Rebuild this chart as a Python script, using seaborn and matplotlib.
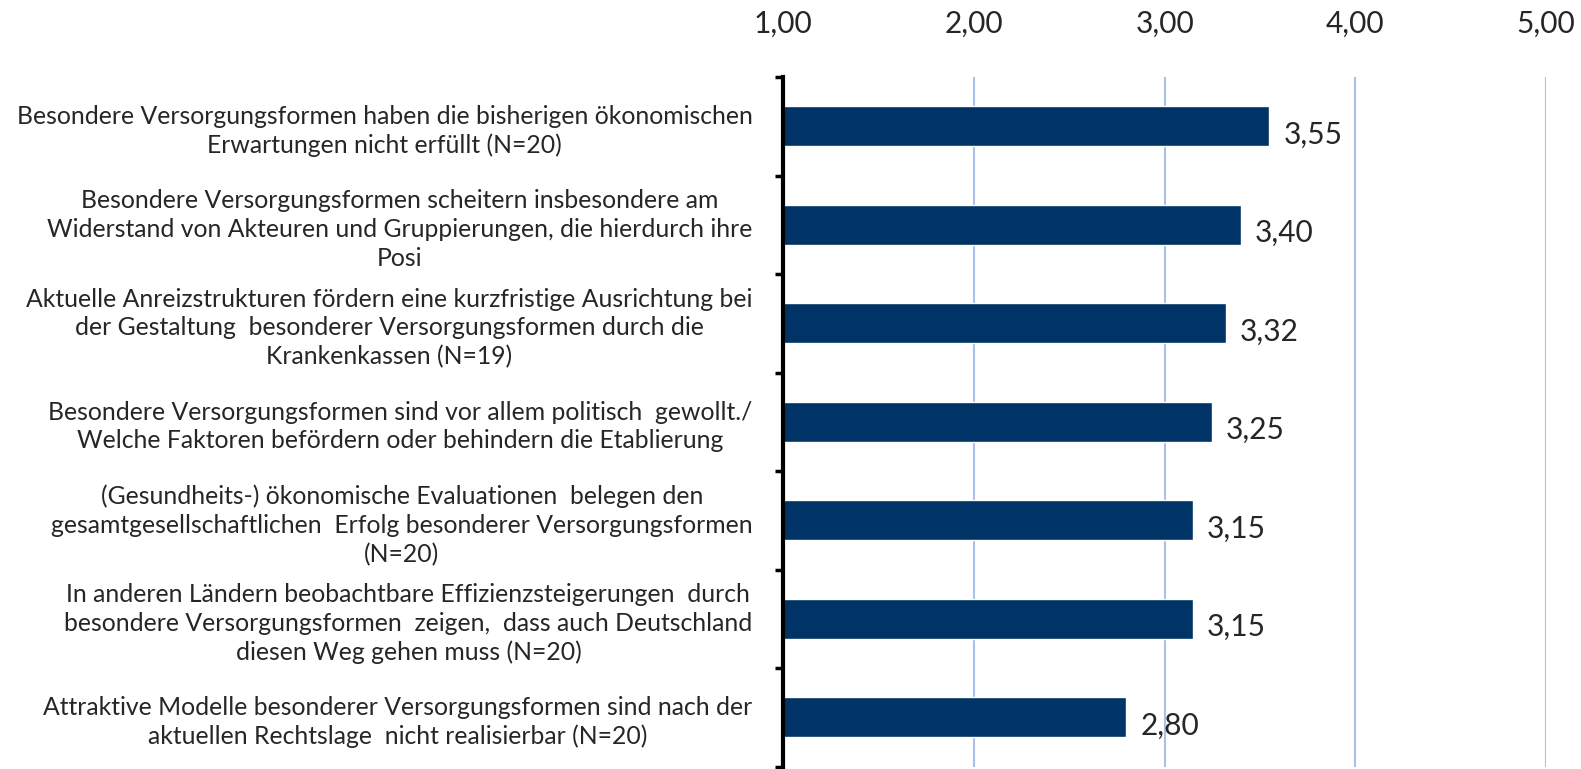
import pandas as pd
import matplotlib.pyplot as plt
import seaborn as sns
from matplotlib.ticker import FixedLocator

# Items and mean ratings, top to bottom
labels = [
    "Besondere Versorgungsformen haben die bisherigen ökonomischen\nErwartungen nicht erfüllt (N=20)",
    "Besondere Versorgungsformen scheitern insbesondere am\nWiderstand von Akteuren und Gruppierungen, die hierdurch ihre\nPosi",
    "Aktuelle Anreizstrukturen fördern eine kurzfristige Ausrichtung bei\nder Gestaltung  besonderer Versorgungsformen durch die\nKrankenkassen (N=19)",
    "Besondere Versorgungsformen sind vor allem politisch  gewollt./\nWelche Faktoren befördern oder behindern die Etablierung",
    "(Gesundheits-) ökonomische Evaluationen  belegen den\ngesamtgesellschaftlichen  Erfolg besonderer Versorgungsformen\n(N=20)",
    "In anderen Ländern beobachtbare Effizienzsteigerungen  durch\nbesondere Versorgungsformen  zeigen,  dass auch Deutschland\ndiesen Weg gehen muss (N=20)",
    "Attraktive Modelle besonderer Versorgungsformen sind nach der\naktuellen Rechtslage  nicht realisierbar (N=20)",
]
means = [3.55, 3.40, 3.32, 3.25, 3.15, 3.15, 2.80]
xticks = [1, 2, 3, 4, 5]

df = pd.DataFrame({'Item': labels, 'Mittelwert': means})

sns.set_style('white')
plt.rcParams['font.family'] = ['Lato', 'DejaVu Sans']

fig = plt.figure(figsize=(15.81, 7.69), dpi=100)
ax = fig.add_axes([0.4953, 0.00325, 0.4826, 0.8966])

sns.barplot(data=df, x='Mittelwert', y='Item', orient='h', color='#003366',
            width=0.41, saturation=1, ax=ax, zorder=3)

ax.set_xlim(1, 5)
ax.set_ylim(len(labels) - 0.5, -0.5)
ax.set_xlabel('')
ax.set_ylabel('')

# x axis on top, comma decimals
ax.xaxis.tick_top()
ax.set_xticks(xticks)
ax.set_xticklabels([f'{t:.2f}'.replace('.', ',') for t in xticks], fontsize=21.5)
ax.tick_params(axis='x', length=0, pad=28)
ax.grid(axis='x', color='#a9c0ea', linewidth=1.5, zorder=0)

# y labels, ticks at category boundaries
ax.set_yticks(range(len(labels)))
ax.set_yticklabels(labels, fontsize=17.8, multialignment='center', linespacing=1.3)
ax.tick_params(axis='y', length=0, pad=22)
ax.yaxis.set_minor_locator(FixedLocator([i - 0.5 for i in range(len(labels) + 1)]))
ax.tick_params(axis='y', which='minor', length=6, width=2.5, color='black', left=True)

for s in ['top', 'right', 'bottom']:
    ax.spines[s].set_visible(False)
ax.spines['left'].set_linewidth(3)
ax.spines['left'].set_color('black')
ax.spines['left'].set_zorder(4)

# value labels
for i, v in enumerate(means):
    ax.annotate(f'{v:.2f}'.replace('.', ','), (v, i), xytext=(10, -6),
                textcoords='offset points', va='center', ha='left', fontsize=21.5)

plt.savefig('out.png', dpi=100)
